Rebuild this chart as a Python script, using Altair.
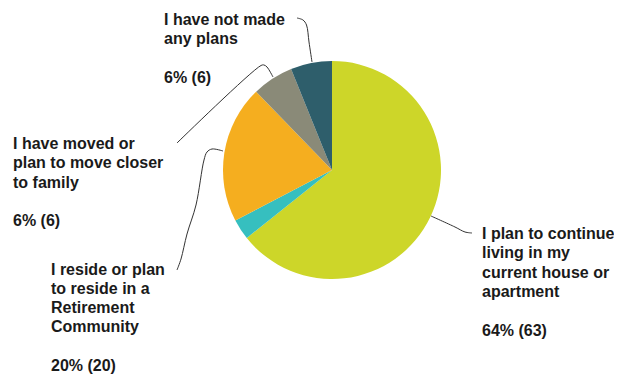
import altair as alt
import pandas as pd

# ---- data ----
categories = [
    "I plan to continue living in my current house or apartment",
    "Other",
    "I reside or plan to reside in a Retirement Community",
    "I have moved or plan to move closer to family",
    "I have not made any plans",
]
counts = [63, 3, 20, 6, 6]
percents = ["64%", "3%", "20%", "6%", "6%"]
colors = ["#CDD629", "#36BFBF", "#F5AE1F", "#8A8A78", "#2E5E6B"]

# label line breaks (text only)
label_lines = {
    categories[0]: ["I plan to continue", "living in my", "current house or", "apartment"],
    categories[2]: ["I reside or plan", "to reside in a", "Retirement", "Community"],
    categories[3]: ["I have moved or", "plan to move closer", "to family"],
    categories[4]: ["I have not made", "any plans"],
}

df = pd.DataFrame({
    "category": categories,
    "count": counts,
    "order": list(range(len(categories))),
})

# ---- layout (page pixel positions, kept separate from data) ----
W, H = 606, 367
CX, CY, R = 324, 162, 109
LH = 19.3
label_pos = {  # left x, first baseline (page coords)
    categories[4]: (164, 25),
    categories[3]: (13, 149),
    categories[2]: (51, 274.5),
    categories[0]: (482, 239),
}
leaders = {
    categories[4]: [(312, 62), (309, 42), (306.5, 25), (303, 20), (297, 18)],
    categories[3]: [(273, 77), (267, 67), (264, 65), (261, 65.5), (177, 143)],
    categories[2]: [(223, 151), (212, 149), (207, 152), (204, 160), (196, 205), (187, 234), (181, 259), (177, 270)],
    categories[0]: [(431, 216), (455, 227), (465, 232), (472, 233)],
}

xs = alt.Scale(domain=[8, 8 + W], range=[0, W])
ys = alt.Scale(domain=[8, 8 + H], range=[0, H])

pie = alt.Chart(df).mark_arc(outerRadius=R, innerRadius=0).encode(
    theta=alt.Theta("count:Q", stack=True),
    order=alt.Order("order:Q"),
    color=alt.Color("category:N", scale=alt.Scale(domain=categories, range=colors), legend=None),
    x=alt.value(CX),
    y=alt.value(CY),
)

rows = []
for cat, pts in leaders.items():
    for i, (px, py) in enumerate(pts):
        rows.append({"category": cat, "i": i, "px": px, "py": py})
lead_df = pd.DataFrame(rows)

lines = alt.Chart(lead_df).mark_line(color="#333333", strokeWidth=1, interpolate="catmull-rom").encode(
    x=alt.X("px:Q", scale=xs, axis=None),
    y=alt.Y("py:Q", scale=ys, axis=None),
    detail="category:N",
    order="i:Q",
)

text_style = dict(align="left", baseline="alphabetic", font="Liberation Sans", fontWeight="bold",
                  fontSize=16, lineHeight=LH, color="#1a1a1a")
text_layers = []
for idx, cat in enumerate(categories):
    if cat not in label_pos:
        continue
    lx, ly = label_pos[cat]
    name_lines = label_lines[cat]
    t = alt.Chart(df).transform_filter(alt.datum.category == cat).mark_text(
        text=name_lines, **text_style
    ).encode(x=alt.value(lx - 8), y=alt.value(ly - 8))
    p = alt.Chart(df).transform_filter(alt.datum.category == cat).mark_text(
        text=f"{percents[idx]} ({counts[idx]})", **text_style
    ).encode(x=alt.value(lx - 8), y=alt.value(ly - 8 + (len(name_lines) + 1) * LH))
    text_layers += [t, p]

chart = alt.layer(pie, lines, *text_layers).properties(
    width=W, height=H, padding=0, autosize=alt.AutoSizeParams(type="none")
).configure_view(stroke=None)

chart.save("out.html", embed_options={"renderer": "svg", "actions": False})
